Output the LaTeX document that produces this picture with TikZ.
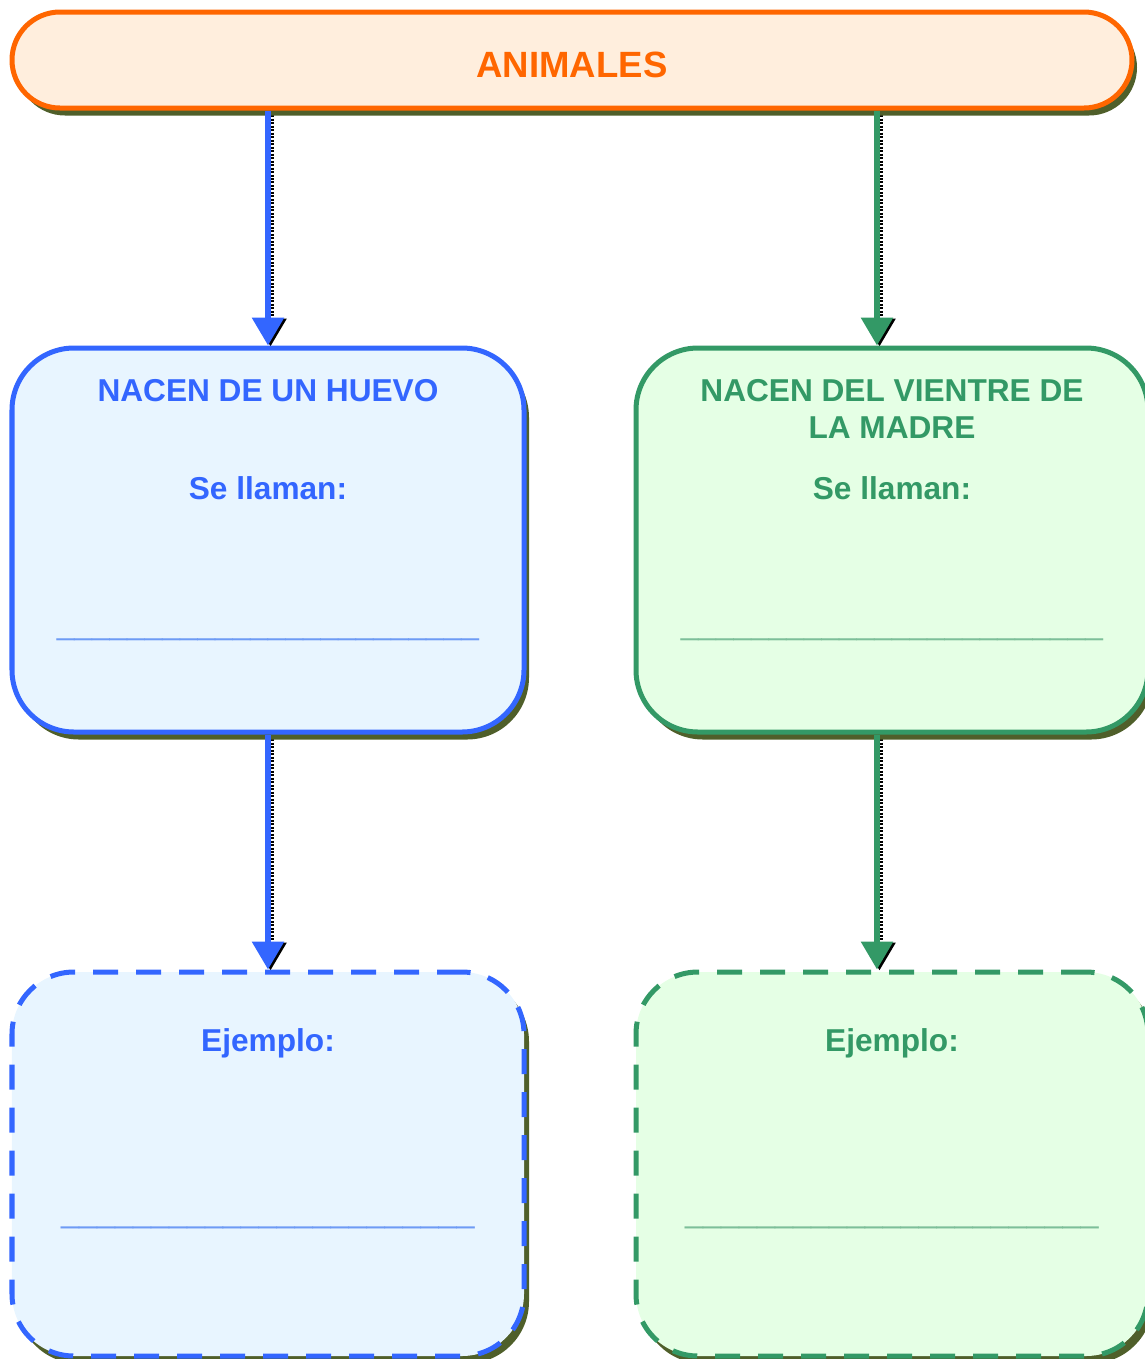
\documentclass[tikz,border=0pt]{standalone}
\usepackage{fontspec}
\setmainfont{Liberation Sans}
\usepackage{tikz}
\usetikzlibrary{arrows.meta,shadows}
\pgfdeclarelayer{bg}
\pgfsetlayers{bg,main}
\definecolor{animorange}{HTML}{FF6600}
\definecolor{animfill}{HTML}{FFEEDD}
\definecolor{eggblue}{HTML}{3366FF}
\definecolor{eggfill}{HTML}{E8F5FF}
\definecolor{eggline}{HTML}{6E9BF5}
\definecolor{wombgreen}{HTML}{339966}
\definecolor{wombfill}{HTML}{E5FFE5}
\definecolor{wombline}{HTML}{7DBF99}
\definecolor{shade}{HTML}{4F5F2A}
\tikzset{
    every node/.style={align=center, inner sep=0mm, font=\bfseries\fontsize{18}{21}\selectfont}
}
\tikzset{
    boxshadow/.style={drop shadow={shadow xshift=0.1cm, shadow yshift=-0.15cm, fill=shade, opacity=1}},
    kindbox/.style={rectangle, line width=0.1cm, rounded corners=1.24cm, minimum width=10.24cm, minimum height=7.68cm, boxshadow},
    blank/.style={anchor=base, font=\mdseries\fontsize{18}{21}\selectfont},
    link/.style={line width=0.12cm, -{Triangle[width=0.62cm, length=0.56cm]}}
}

\begin{document}
\begin{tikzpicture}
    \useasboundingbox (0cm, 0cm) rectangle (22.88cm, -27.18cm);

    \node (top) at (11.44cm, -1.2cm) [draw=animorange, fill=animfill, line width=0.1cm, rounded corners=0.96cm, minimum width=22.4cm, minimum height=1.92cm, boxshadow] {};
    \node (animales) at (11.44cm, -1.3cm) [text=animorange, font=\bfseries\fontsize{20.8}{24}\selectfont] {ANIMALES};

    % oviparos
    \node (egg) at (5.36cm, -10.8cm) [kindbox, draw=eggblue, fill=eggfill] {};
    \node (eggtitle) at (5.36cm, -8.03cm) [anchor=base, text=eggblue] {NACEN DE UN HUEVO};
    \node (eggcall) at (5.36cm, -9.99cm) [anchor=base, text=eggblue] {Se llaman:};
    \node (eggblank) at (5.36cm, -12.69cm) [blank, text=eggline] {\_\_\_\_\_\_\_\_\_\_\_\_\_\_\_\_\_\_\_\_\_\_\_\_};

    % viviparos
    \node (womb) at (17.84cm, -10.8cm) [kindbox, draw=wombgreen, fill=wombfill] {};
    \node (wombtitle) at (17.84cm, -8.17cm) [text=wombgreen] {NACEN DEL VIENTRE DE\\LA MADRE};
    \node (wombcall) at (17.84cm, -9.99cm) [anchor=base, text=wombgreen] {Se llaman:};
    \node (wombblank) at (17.84cm, -12.69cm) [blank, text=wombline] {\_\_\_\_\_\_\_\_\_\_\_\_\_\_\_\_\_\_\_\_\_\_\_\_};

    % ejemplos
    \node (eggex) at (5.36cm, -23.28cm) [kindbox, dash pattern=on 0.5cm off 0.36cm, draw=eggblue, fill=eggfill] {};
    \node (eggexlabel) at (5.36cm, -21.02cm) [anchor=base, text=eggblue] {Ejemplo:};
    \node (eggexblank) at (5.36cm, -24.45cm) [blank, text=eggline, font=\mdseries\fontsize{18.4}{21}\selectfont] {\_\_\_\_\_\_\_\_\_\_\_\_\_\_\_\_\_\_\_\_\_\_\_};

    \node (wombex) at (17.84cm, -23.28cm) [kindbox, dash pattern=on 0.5cm off 0.36cm, draw=wombgreen, fill=wombfill] {};
    \node (wombexlabel) at (17.84cm, -21.02cm) [anchor=base, text=wombgreen] {Ejemplo:};
    \node (wombexblank) at (17.84cm, -24.45cm) [blank, text=wombline, font=\mdseries\fontsize{18.4}{21}\selectfont] {\_\_\_\_\_\_\_\_\_\_\_\_\_\_\_\_\_\_\_\_\_\_\_};

    \coordinate (eggx) at (5.36cm, 0cm);
    \coordinate (wombx) at (17.54cm, 0cm);

    \draw [link, eggblue] (top.south -| eggx) -- (egg.north -| eggx);
    \draw [link, wombgreen] (top.south -| wombx) -- (womb.north -| wombx);
    \draw [link, eggblue] (egg.south -| eggx) -- (eggex.north -| eggx);
    \draw [link, wombgreen] (womb.south -| wombx) -- (wombex.north -| wombx);

    \begin{pgfonlayer}{bg}
        \begin{scope}[transform canvas={xshift=0.05cm, yshift=-0.02cm}]
            \draw [link, shade, dash pattern=on 0.04cm off 0.03cm] (top.south -| eggx) -- (egg.north -| eggx);
            \draw [link, shade, dash pattern=on 0.04cm off 0.03cm] (top.south -| wombx) -- (womb.north -| wombx);
            \draw [link, shade, dash pattern=on 0.04cm off 0.03cm] (egg.south -| eggx) -- (eggex.north -| eggx);
            \draw [link, shade, dash pattern=on 0.04cm off 0.03cm] (womb.south -| wombx) -- (wombex.north -| wombx);
        \end{scope}
    \end{pgfonlayer}
\end{tikzpicture}
\end{document}
